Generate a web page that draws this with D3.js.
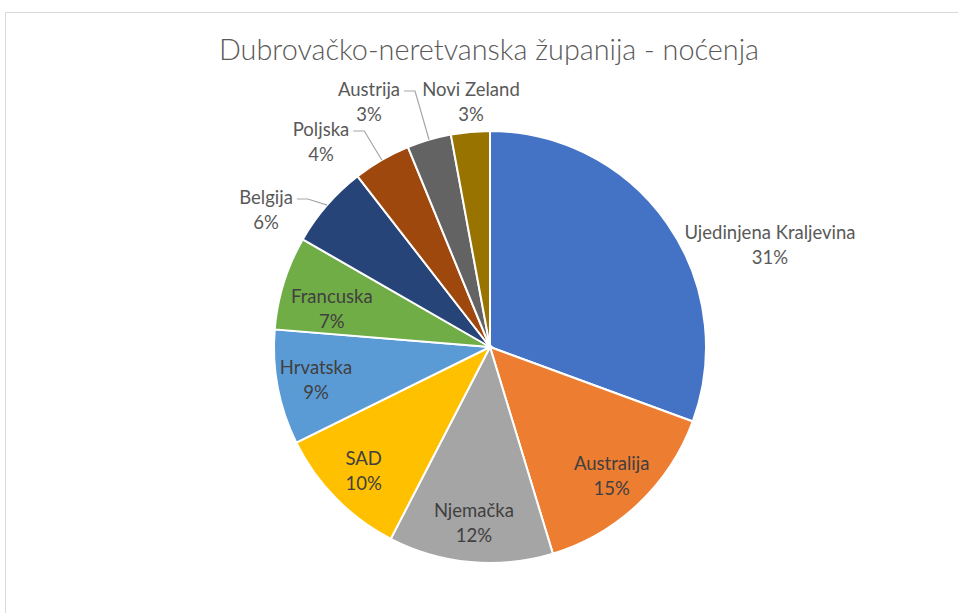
<!DOCTYPE html>
<html>
<head>
<meta charset="utf-8">
<script src="https://cdn.jsdelivr.net/npm/d3@7"></script>
<style>
  body { margin: 0; background: #fff; }
  text { font-family: Lato, "Open Sans", sans-serif; }
</style>
</head>
<body>
<div id="chart"></div>
<script>
// Data
var countries = ["Ujedinjena Kraljevina", "Australija", "Njemačka", "SAD", "Hrvatska",
  "Francuska", "Belgija", "Poljska", "Austrija", "Novi Zeland"];
var shares = [30.6, 14.7, 12.3, 10.1, 8.6, 7.0, 6.2, 4.3, 3.3, 2.9];
var colors = ["#4472C4", "#ED7D31", "#A5A5A5", "#FFC000", "#5B9BD5",
  "#70AD47", "#264478", "#9E480E", "#636363", "#997300"];

var svgWidth = 958;
var svgHeight = 613;
var cx = 490, cy = 347, radius = 216;

// labels that sit outside the pie (block centre relative to pie centre)
var outside = {
  "Ujedinjena Kraljevina": { dx: 280, dy: -102, leader: false },
  "Belgija": { dx: -224, dy: -137, leader: true },
  "Poljska": { dx: -169, dy: -205, leader: true },
  "Austrija": { dx: -121, dy: -245, leader: true },
  "Novi Zeland": { dx: -19, dy: -245, leader: false }
};
// small nudges for inside labels
var nudge = { "Francuska": [11, 15] };

var svg = d3.select("#chart")
  .append("svg")
  .attr("width", svgWidth)
  .attr("height", svgHeight);

// chart frame
svg.append("rect")
  .attr("x", 5.5)
  .attr("y", 12.5)
  .attr("width", 1000)
  .attr("height", 700)
  .attr("fill", "#fff")
  .attr("stroke", "#d9d9d9");

svg.append("text")
  .attr("x", cx - 1)
  .attr("y", 60)
  .attr("text-anchor", "middle")
  .attr("font-size", "28.8px")
  .attr("font-weight", 300)
  .attr("fill", "#595959")
  .text("Dubrovačko-neretvanska županija - noćenja");

var data = countries.map(function (c, i) {
  return { name: c, value: shares[i], color: colors[i] };
});
var total = d3.sum(shares);

var pie = d3.pie().sort(null).value(d => d.value);
var arcs = pie(data);

var arc = d3.arc().innerRadius(0).outerRadius(radius);
var labelArc = d3.arc().innerRadius(radius * 0.82).outerRadius(radius * 0.82);
var edgeArc = d3.arc().innerRadius(radius).outerRadius(radius);

var g = svg.append("g")
  .attr("transform", `translate(${cx}, ${cy})`);

g.selectAll("path")
  .data(arcs)
  .enter()
  .append("path")
  .attr("d", arc)
  .attr("fill", d => d.data.color)
  .attr("stroke", "#fff")
  .attr("stroke-width", 2);

// labels
arcs.forEach(function (d) {
  var o = outside[d.data.name];
  var pos = o ? [o.dx, o.dy] : labelArc.centroid(d);
  var n = nudge[d.data.name];
  if (n) pos = [pos[0] + n[0], pos[1] + n[1]];
  var pct = Math.round(d.data.value / total * 100) + "%";
  var t = g.append("text")
    .attr("text-anchor", "middle")
    .attr("font-size", "18.5px")
    .attr("fill", o ? "#595959" : "#404040");
  t.append("tspan").attr("x", pos[0]).attr("y", pos[1] - 6).text(d.data.name);
  t.append("tspan").attr("x", pos[0]).attr("y", pos[1] + 19).text(pct);

  if (o && o.leader) {
    var w = t.select("tspan").node().getComputedTextLength();
    var x0 = pos[0] + w / 2 + 4;
    var y0 = pos[1] - 11;
    var end = edgeArc.centroid(d);
    g.append("polyline")
      .attr("points", [[x0, y0], [x0 + 11, y0], end].map(p => p.join(",")).join(" "))
      .attr("fill", "none")
      .attr("stroke", "#a6a6a6")
      .attr("stroke-width", 1.2);
  }
});
</script>
</body>
</html>
